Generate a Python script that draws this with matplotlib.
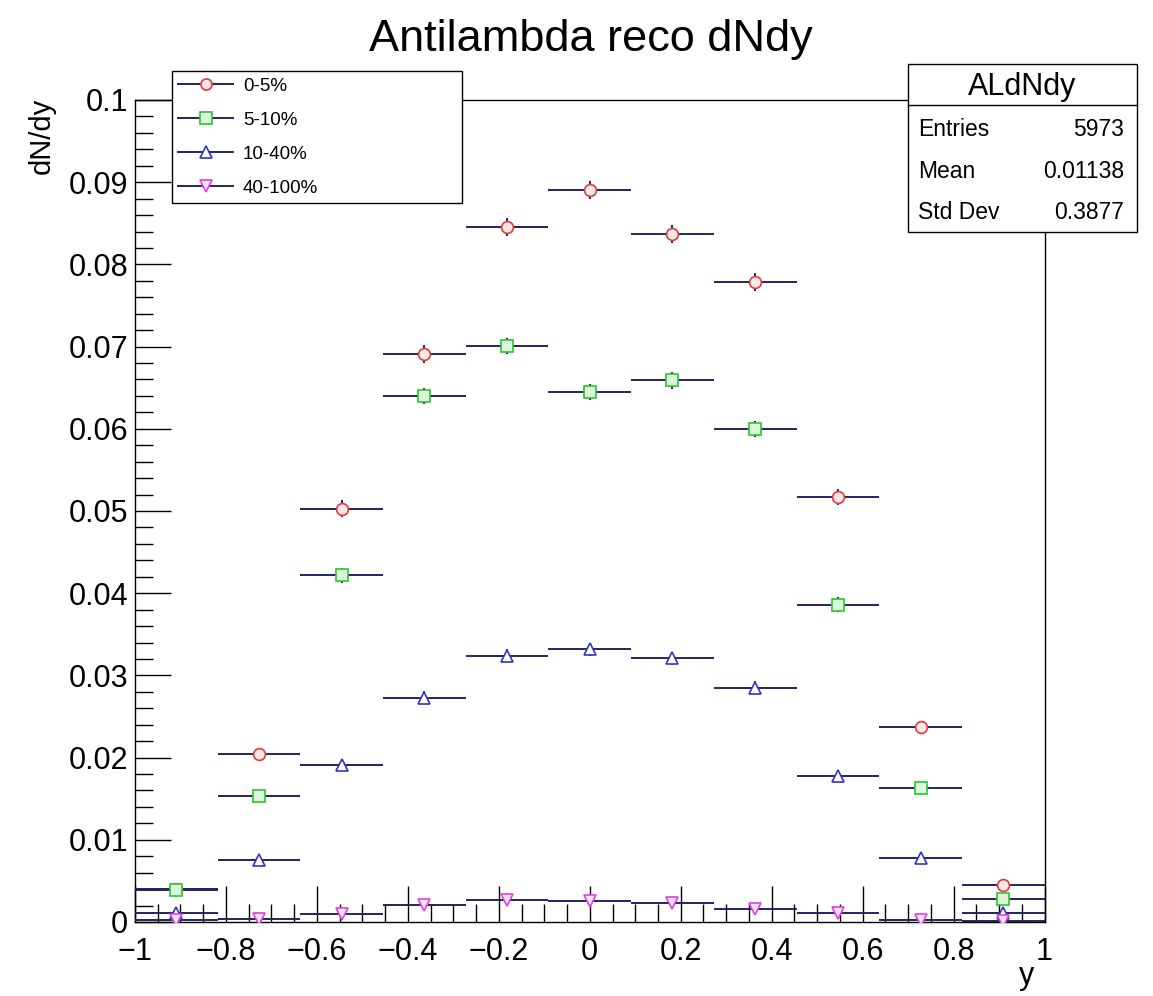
import numpy as np
import matplotlib
matplotlib.use('Agg')
import matplotlib.pyplot as plt
from matplotlib.lines import Line2D
from matplotlib.patches import Rectangle

plt.rcParams['font.family'] = ['Liberation Sans', 'DejaVu Sans']

# 11 rapidity bins between -1 and 1
bin_edges = np.linspace(-1, 1, 12)
y_centers = 0.5 * (bin_edges[:-1] + bin_edges[1:])
half_width = 0.5 * (bin_edges[1] - bin_edges[0])

labels = ['0-5%', '5-10%', '10-40%', '40-100%']

dndy_0_5 = [0.0040, 0.0204, 0.0503, 0.0691, 0.0845, 0.0890, 0.0837, 0.0779, 0.0517, 0.0237, 0.0045]
dndy_5_10 = [0.0039, 0.0153, 0.0422, 0.0640, 0.0701, 0.0645, 0.0659, 0.0600, 0.0386, 0.0163, 0.0028]
dndy_10_40 = [0.0011, 0.0076, 0.0191, 0.0273, 0.0324, 0.0332, 0.0321, 0.0285, 0.0178, 0.0078, 0.0011]
dndy_40_100 = [0.0002, 0.0004, 0.0010, 0.0021, 0.0027, 0.0025, 0.0023, 0.0016, 0.0011, 0.0003, 0.0001]

err_0_5 = [0.0005, 0.0008, 0.0010, 0.0011, 0.0011, 0.0011, 0.0011, 0.0011, 0.0010, 0.0008, 0.0005]
err_5_10 = [0.0005, 0.0007, 0.0009, 0.0010, 0.0010, 0.0010, 0.0010, 0.0010, 0.0009, 0.0007, 0.0004]
err_10_40 = [0.0004, 0.0005, 0.0007, 0.0008, 0.0008, 0.0008, 0.0008, 0.0008, 0.0007, 0.0005, 0.0004]
err_40_100 = [0.0004, 0.0004, 0.0005, 0.0006, 0.0006, 0.0006, 0.0006, 0.0006, 0.0005, 0.0004, 0.0004]

stats_title = 'ALdNdy'
stats_names = ['Entries', 'Mean', 'Std Dev']
stats_values = ['5973', '0.01138', '0.3877']

LINE = '#23235f'
series = [
    (dndy_0_5, err_0_5, 'o', '#e03a3a', '#fbe6e6'),
    (dndy_5_10, err_5_10, 's', '#2ec42e', '#dcf6dc'),
    (dndy_10_40, err_10_40, '^', '#3434c4', '#ffffff'),
    (dndy_40_100, err_40_100, 'v', '#e040e0', '#fbe3fb'),
]

fig = plt.figure(figsize=(11.53, 9.96), dpi=100)
ax = fig.add_axes([0.117, 0.0743, 0.789, 0.8253])

handles = []
for (vals, errs, mk, col, fill), lab in zip(series, labels):
    ax.errorbar(y_centers, vals, xerr=half_width, yerr=errs, fmt=mk, ms=8.5,
                mfc=fill, mec=col, mew=1.2, ecolor=LINE, elinewidth=1.4,
                capsize=0, zorder=3)
    handles.append(Line2D([0], [0], color=LINE, lw=1.4, marker=mk, ms=8,
                          mfc=fill, mec=col, mew=1.2))

ax.set_xlim(-1, 1)
ax.set_ylim(0, 0.1)
ax.set_xticks(np.arange(-1, 1.01, 0.2))
ax.set_xticks(np.arange(-1, 1.001, 0.05), minor=True)
ax.set_xticklabels(['\u22121', '\u22120.8', '\u22120.6', '\u22120.4', '\u22120.2',
                    '0', '0.2', '0.4', '0.6', '0.8', '1'])
ax.set_yticks(np.arange(0, 0.1001, 0.01))
ax.set_yticks(np.arange(0, 0.1001, 0.002), minor=True)
ax.set_yticklabels(['0', '0.01', '0.02', '0.03', '0.04', '0.05', '0.06',
                    '0.07', '0.08', '0.09', '0.1'])
ax.tick_params(which='both', direction='in', labelsize=22, width=1.0,
               top=False, right=False)
ax.tick_params(axis='x', which='major', length=26, pad=11)
ax.tick_params(axis='x', which='minor', length=13)
ax.tick_params(axis='y', which='major', length=26, pad=5)
ax.tick_params(axis='y', which='minor', length=13)
for sp in ax.spines.values():
    sp.set_linewidth(1.0)

fig.text(0.5126, 0.96, 'Antilambda reco dNdy', fontsize=32.5, ha='center', va='center')
fig.text(0.036, 0.902, 'dN/dy', fontsize=21, rotation=90, ha='center', va='top')
fig.text(0.897, 0.005, 'y', fontsize=22, ha='right', va='bottom')

leg = ax.legend(handles, labels, loc='upper left',
                bbox_to_anchor=(0.149, 0.7861, 0.2517, 0.1426),
                bbox_transform=fig.transFigure, mode='expand', borderaxespad=0,
                fontsize=13.5, handlelength=2.9, handletextpad=0.55,
                labelspacing=0.9, borderpad=0.35, fancybox=False,
                framealpha=1, edgecolor='black')
leg.get_frame().set_linewidth(1.0)

# stats box
bx0, bx1, by0, by1 = 0.7875, 0.986, 0.767, 0.9357
fig.patches.append(Rectangle((bx0, by0), bx1 - bx0, by1 - by0, transform=fig.transFigure,
                             facecolor='white', edgecolor='black', lw=1.0, zorder=5))
fig.lines.append(Line2D([bx0, bx1], [0.8946, 0.8946], transform=fig.transFigure,
                        color='black', lw=1.0, zorder=6))
fig.text((bx0 + bx1) / 2, 0.9125, stats_title, fontsize=22, ha='center', va='center', zorder=7)
for i, (nm, vl) in enumerate(zip(stats_names, stats_values)):
    yy = 0.8695 - i * 0.0415
    fig.text(bx0 + 0.009, yy, nm, fontsize=16.5, ha='left', va='center', zorder=7)
    fig.text(bx1 - 0.011, yy, vl, fontsize=16.5, ha='right', va='center', zorder=7)

fig.savefig('out.png', dpi=100)
